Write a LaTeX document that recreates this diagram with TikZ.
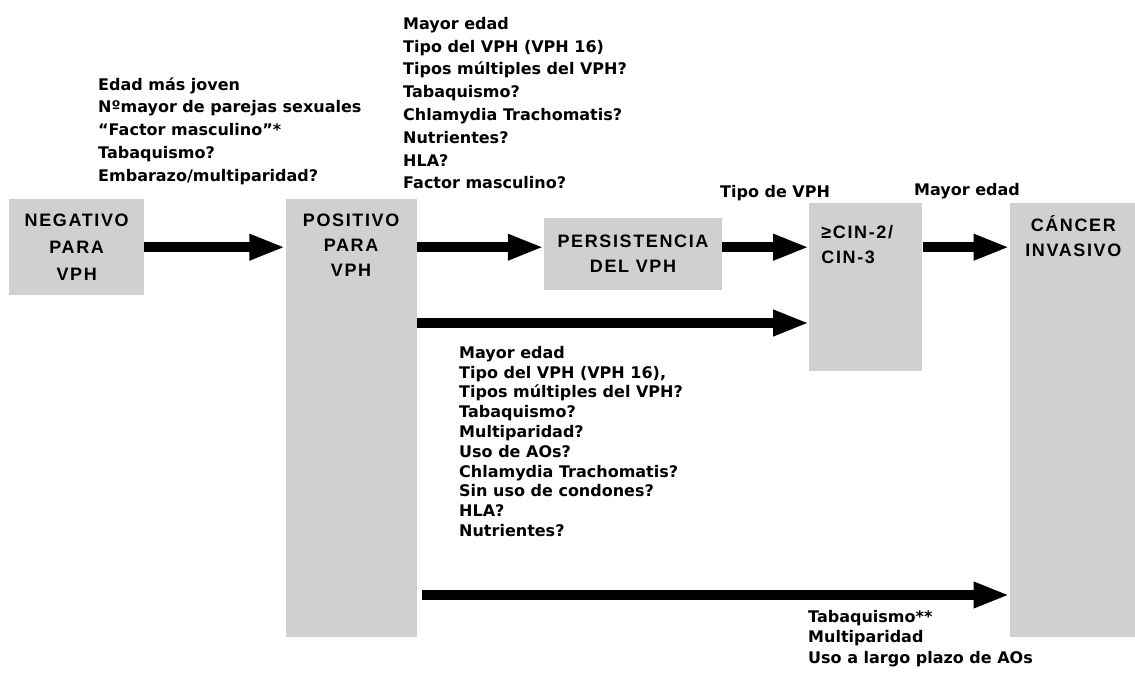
\documentclass[tikz,border=0pt]{standalone}
\usepackage{fontspec}
\setmainfont{DejaVu Sans}
\newfontfamily\boxfont{Liberation Sans}[LetterSpace=9]
\usepackage{tikz}
\usetikzlibrary{arrows.meta, positioning}
\definecolor{boxgray}{RGB}{208,208,208}
\tikzstyle{block} = [fill=boxgray, rectangle, inner sep=0pt,
    font=\boxfont\bfseries\fontsize{18}{27}\selectfont, align=center]
\tikzstyle{boxtext} = [inner sep=0pt, font=\boxfont\bfseries\fontsize{18}{25}\selectfont]
\tikzstyle{factors} = [inner sep=0pt, anchor=north west, align=left]
\tikzstyle{flow} = [line width=10pt, -{Triangle[length=36pt,width=24pt]}]
\newcommand{\wide}{\bfseries\fontsize{16}{22.8}\selectfont}
\newcommand{\tight}{\bfseries\fontsize{16}{19.8}\selectfont}

\begin{document}
\begin{tikzpicture}[auto, x=1pt, y=-1pt, >=Triangle]
    \useasboundingbox (0,0) rectangle (1135,672);
    % stages
    \node [block, minimum width=135pt, minimum height=96pt, anchor=north west] (neg) at (9,199) {NEGATIVO\\PARA\\VPH};
    \node [block, minimum width=131pt, minimum height=438pt, right=141pt of neg.north east, anchor=north west] (pos) {};
    \node [boxtext, align=center, below=15pt of pos.north] (postext) {POSITIVO\\PARA\\VPH};
    \node [block, minimum width=178pt, minimum height=72pt, below right=19pt and 127pt of pos.north east,
        font=\boxfont\bfseries\fontsize{18}{25}\selectfont] (pers) {PERSISTENCIA\\DEL VPH};
    \node [block, minimum width=113pt, minimum height=168pt, above right=15pt and 87pt of pers.north east, anchor=north west] (cin) {};
    \node [boxtext, align=left, below right=22pt and 12pt of cin.north west] (cintext) {≥CIN-2/\\CIN-3};
    \node [block, minimum width=127pt, minimum height=434pt, right=87pt of cin.north east, anchor=north west] (canc) {};
    \node [boxtext, align=center, below=12pt of canc.north] (canctext) {CÁNCER\\INVASIVO};

    % rows of the lower arrows
    \coordinate (midrow) at (0,323);
    \coordinate (lowrow) at (0,595);

    \draw [flow] (neg.east) -- (pos.west |- neg.east);
    \draw [flow] (pos.east |- neg.east) -- (pers.west |- neg.east);
    \draw [flow] (pers.east |- neg.east) -- (cin.west |- neg.east);
    \draw [flow] (cin.east |- neg.east) -- (canc.west |- neg.east);
    \draw [flow] (pos.east |- midrow) -- (cin.west |- midrow);
    \draw [flow] ([xshift=5pt]pos.east |- lowrow) -- (canc.west |- lowrow);

    % risk factors
    \node [factors, font=\wide] (infect) at (98,77) {Edad más joven\\Nºmayor de parejas sexuales\\“Factor masculino”*\\Tabaquismo?\\Embarazo/multiparidad?};
    \node [factors, font=\wide] (persist) at (403,17) {Mayor edad\\Tipo del VPH (VPH 16)\\Tipos múltiples del VPH?\\Tabaquismo?\\Chlamydia Trachomatis?\\Nutrientes?\\HLA?\\Factor masculino?};
    \node [factors, font=\wide] (tipo) at (720,185) {Tipo de VPH};
    \node [factors, font=\wide] (edad) at (914,183) {Mayor edad};
    \node [factors, font=\tight] (progress) at (459,346) {Mayor edad\\Tipo del VPH (VPH 16),\\Tipos múltiples del VPH?\\Tabaquismo?\\Multiparidad?\\Uso de AOs?\\Chlamydia Trachomatis?\\Sin uso de condones?\\HLA?\\Nutrientes?};
    \node [factors, font=\bfseries\fontsize{16}{20.5}\selectfont] (invade) at (808,610) {Tabaquismo**\\Multiparidad\\Uso a largo plazo de AOs};
\end{tikzpicture}
\end{document}
